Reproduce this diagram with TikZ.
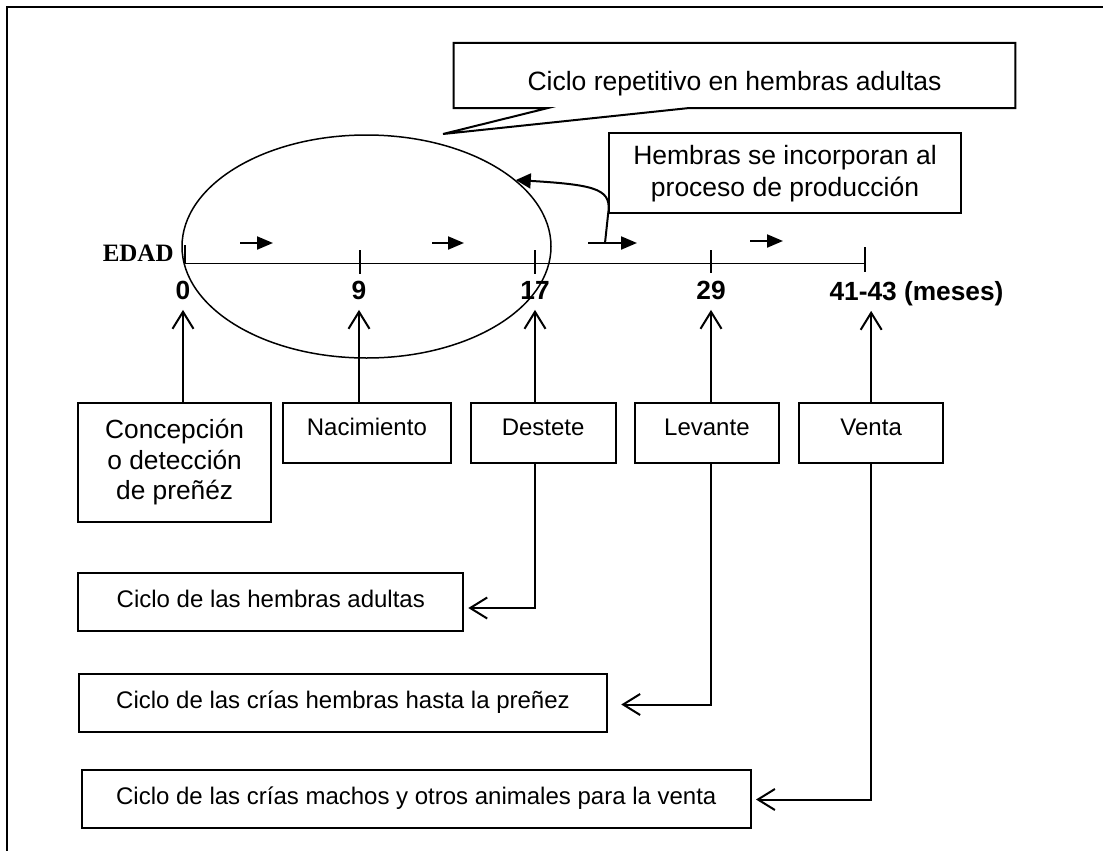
\documentclass[tikz,border=0pt]{standalone}
\usepackage{fontspec}
\setmainfont{Liberation Sans}
\newfontfamily\edadfont{Liberation Serif}
\usetikzlibrary{arrows.meta,calc,shapes.geometric}

\tikzset{
	caja/.style={draw, line width=1pt, inner sep=0pt, align=center, font=\fontsize{12}{14}\selectfont},
	etapa/.style={caja, minimum width=72.4pt, minimum height=30.3pt, text height=8.6pt, text depth=6pt},
	ciclobox/.style={caja, minimum height=29pt, text height=8.6pt, text depth=3pt},
	subida/.style={line width=1pt, -{Straight Barb[length=8.5pt,width=10.5pt]}},
	flujo/.style={line width=1pt, -{Triangle[length=8pt,width=6.5pt]}},
	num/.style={font=\fontsize{13.15}{15}\selectfont\bfseries, inner sep=5pt, text height=9.5pt, text depth=0pt},
	marca/.style={line width=0.7pt}
}

\begin{document}
\begin{tikzpicture}[x=0.5pt,y=-0.5pt]
	%%%%% START %%%%%
	\useasboundingbox (0,0) rectangle (1103,851);
	\draw[line width=1pt] (7,851) -- (7,7) -- (1103,7);
	
	% ciclo de las hembras
	\node[ellipse, draw, line width=0.75pt, minimum width=184.5pt, minimum height=111.5pt, inner sep=0pt] (ciclo) at (366.5,246.5) {};
	
	% eje de edad
	\draw[line width=0.5pt] (185,263) -- (865,263);
	\draw[marca] (185,245) -- (185,263);
	\draw[marca] (360,250) -- (360,274);
	\draw[marca] (535,250) -- (535,274);
	\draw[marca] (711,250) -- (711,273);
	\draw[marca] (865,247) -- (865,272);
	\node[font=\edadfont\fontsize{12.5}{14}\selectfont\bfseries, inner sep=0pt, anchor=base east] (edad) at (174,261) {EDAD};
	
	\node[num] (m0) at (183,290) {0};
	\node[num] (m9) at (359,290) {9};
	\node[num] (m17) at (535,290) {17};
	\node[num] (m29) at (711,290) {29};
	\node[num] (meses) at (916.5,291) {41-43 (meses)};
	
	\draw[flujo] (240,243) -- (273,243);
	\draw[flujo] (432,243) -- (464,243);
	\draw[flujo] (588,243) -- (637,243);
	\draw[flujo] (750,241) -- (783,241);
	
	% llamadas
	\node[inner sep=0pt, minimum width=280.5pt, minimum height=32.2pt, text height=14.5pt, text depth=0pt, font=\fontsize{13.25}{15}\selectfont] (ciclorep) at (734.5,75.5) {Ciclo repetitivo en hembras adultas};
	\coordinate (punta) at (443,134);
	\draw[line width=1pt] (ciclorep.south west) -- (ciclorep.north west) -- (ciclorep.north east) -- (ciclorep.south east) -- ($(ciclorep.south east)+(-327,0)$) -- (punta) -- ($(ciclorep.south west)+(94,0)$) -- cycle;
	
	\node[caja, minimum width=176pt, minimum height=40pt, font=\fontsize{13.25}{15.85}\selectfont] (incorp) at (785,173.3) {Hembras se incorporan al\\proceso de producción};
	\coordinate (salida) at (605,243);
	\draw[line width=1pt, -{Triangle[length=7.5pt,width=7.5pt]}] (salida) -- (608,215) .. controls (612,190) and (600,185) .. (ciclo.24);
	
	% etapas
	\node[caja, minimum width=96.35pt, minimum height=59.8pt, font=\fontsize{13.15}{15.25}\selectfont] (conc) at (174.65,462.5) {Concepción\\o detección\\de preñéz};
	\node[etapa, minimum width=84.15pt] (nac) at (366.85,433) {Nacimiento};
	\node[etapa] (dest) at (543.1,433) {Destete};
	\node[etapa] (lev) at (706.9,433) {Levante};
	\node[etapa, minimum width=72.15pt] (venta) at (871.15,433) {Venta};
	
	\draw[subida] (m0 |- conc.north) -- (m0.south);
	\draw[subida] (m9 |- nac.north) -- (m9.south);
	\draw[subida] (m17 |- dest.north) -- (m17.south);
	\draw[subida] (m29 |- lev.north) -- (m29.south);
	\draw[subida] (venta.north) -- (venta |- meses.south);
	
	% ciclos
	\node[ciclobox, minimum width=192.5pt, minimum height=28.7pt] (hadultas) at (270.8,602) {Ciclo de las hembras adultas};
	\node[ciclobox, minimum width=264.25pt] (hcrias) at (343,702.5) {Ciclo de las crías hembras hasta la preñez};
	\node[ciclobox, minimum width=334.7pt] (machos) at (416.3,798.5) {Ciclo de las crías machos y otros animales para la venta};
	
	\draw[subida] (m17 |- dest.south) |- ([shift={(4,6)}]hadultas.east);
	\draw[subida] (m29 |- lev.south) |- ([shift={(13,2)}]hcrias.east);
	\draw[subida] (venta.south) |- ([shift={(4,1)}]machos.east);
	%%%%% END %%%%%
\end{tikzpicture}
\end{document}
